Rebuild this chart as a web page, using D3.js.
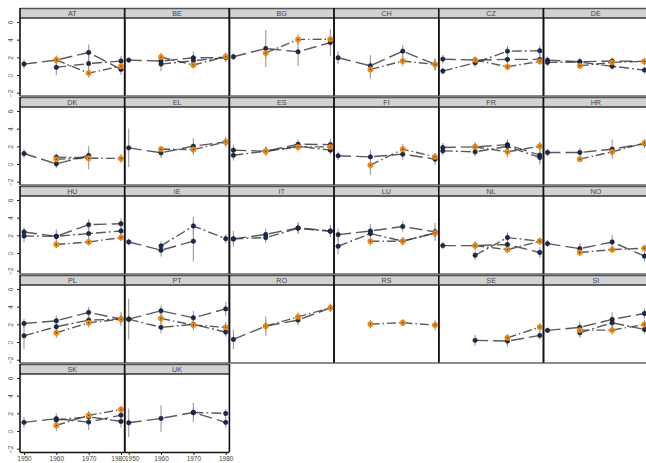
<!DOCTYPE html>
<html>
<head>
<meta charset="utf-8">
<script src="https://cdn.jsdelivr.net/npm/d3@7"></script>
<style>
  html, body { margin: 0; padding: 0; background: #fff; }
  svg { display: block; font-family: "Liberation Sans", Arial, sans-serif; }
</style>
</head>
<body>
<svg id="chart" width="646" height="463"></svg>
<script>
// Survey years on the x axis
const years = [1950, 1960, 1970, 1980];
const xTicks = [1950, 1960, 1970, 1980];
const yTicks = [-2, 0, 2, 4, 6];

// Country panels, in facet order
const countries = ["AT","BE","BG","CH","CZ","DE","DK","EL","ES","FI","FR","HR",
                   "HU","IE","IT","LU","NL","NO","PL","PT","RO","RS","SE","SI",
                   "SK","UK"];

// First navy series (long dash)
const navyA = [
  [1.24,1.70,2.55,0.64],[1.69,1.58,1.95,1.99],[2.07,3.00,2.63,3.68],[1.95,1.05,2.70,1.20],
  [1.80,1.69,1.77,1.77],[1.69,1.50,1.58,1.54],[1.19,0.02,0.97,null],[1.83,1.27,2.02,2.50],
  [1.57,1.45,2.24,2.20],[0.93,0.81,1.12,0.55],[1.87,1.94,2.20,1.00],[1.31,1.31,1.68,2.30],
  [2.38,1.89,3.21,3.32],[1.25,0.32,1.34,null],[1.60,2.10,2.85,2.50],[2.08,2.49,3.00,2.40],
  [0.84,0.84,0.96,0.06],[1.07,0.50,1.25,-0.35],[2.10,2.40,3.35,2.60],[2.59,3.53,2.74,3.75],
  [0.30,1.80,2.48,3.87],[null,null,null,null],[null,0.19,0.11,0.75],[1.32,1.66,2.56,3.23],
  [0.98,1.39,1.01,1.80],[0.94,1.43,2.10,0.98]
];
const errA = [
  [0.5,0.5,0.9,0.6],[0.3,0.6,0.7,0.5],[0.4,2.1,1.6,1.5],[0.7,1.2,0.7,0.7],
  [0.5,0.4,0.6,0.6],[0.4,0.4,0.4,0.4],[0.5,0.5,0.6,null],[2.2,0.6,0.9,0.6],
  [0.6,0.5,0.5,0.7],[0.5,0.8,0.7,0.7],[0.5,0.5,0.6,0.8],[0.4,0.5,1.1,0.5],
  [0.5,0.8,0.6,0.6],[0.4,0.7,2.3,null],[0.6,0.7,0.7,0.7],[0.7,0.8,0.6,1.0],
  [0.4,0.5,0.6,0.6],[0.4,0.6,0.8,0.6],[0.5,0.6,0.6,0.8],[2.3,0.6,0.8,0.8],
  [1.1,0.6,0.6,0.5],[null,null,null,null],[null,0.6,0.6,0.5],[0.3,0.6,0.8,0.6],
  [0.6,0.6,0.9,0.5],[1.6,1.5,1.1,0.6]
];

// Second navy series (dash-dot)
const navyB = [
  [null,0.87,1.30,1.58],[null,1.24,1.61,1.99],[null,null,null,null],[null,null,null,null],
  [0.45,1.39,2.70,2.74],[1.43,1.46,1.00,0.56],[null,0.78,0.70,null],[null,null,null,null],
  [1.00,1.45,2.00,1.57],[null,null,null,null],[1.49,1.38,2.00,0.74],[null,null,null,null],
  [1.93,1.89,2.20,2.49],[null,0.80,3.06,1.63],[1.60,1.75,2.80,2.45],[0.77,2.20,1.34,2.27],
  [null,-0.25,1.75,1.34],[null,null,null,null],[0.71,1.73,2.48,2.60],[2.59,1.66,2.00,1.13],
  [null,null,null,null],[null,null,null,null],[null,null,null,null],[null,1.05,2.18,1.43],
  [null,1.25,1.60,1.09],[null,null,2.10,1.99]
];
const errB = [
  [null,0.9,0.9,0.6],[null,0.8,0.6,0.4],[null,null,null,null],[null,null,null,null],
  [0.4,0.5,0.6,0.6],[0.4,0.4,0.4,0.4],[null,0.4,1.3,null],[null,null,null,null],
  [0.6,0.5,0.4,0.5],[null,null,null,null],[0.5,0.5,0.5,0.8],[null,null,null,null],
  [0.7,0.6,1.2,0.5],[null,0.5,1.0,0.5],[0.9,0.6,0.5,0.5],[0.9,0.7,0.5,0.5],
  [null,0.5,0.6,0.4],[null,null,null,null],[1.5,0.6,0.5,0.5],[0.5,0.7,0.5,0.5],
  [null,null,null,null],[null,null,null,null],[null,null,null,null],[null,0.6,0.7,0.5],
  [null,0.5,0.6,0.7],[null,null,0.5,0.5]
];

// Orange series (dash-dot, points in orange)
const orangeS = [
  [null,1.70,0.22,1.00],[null,2.03,1.13,2.07],[null,2.50,4.02,4.06],[null,0.64,1.58,1.20],
  [null,1.69,0.94,1.54],[null,1.05,1.43,1.54],[null,0.55,0.66,0.63],[null,1.68,1.64,2.50],
  [null,1.45,1.94,1.94],[null,-0.12,1.68,0.81],[null,1.94,1.38,2.02],[null,0.55,1.38,2.39],
  [null,0.96,1.26,1.75],[null,null,null,null],[null,null,null,null],[null,1.34,1.34,2.27],
  [null,0.84,0.39,1.34],[null,0.06,0.39,0.54],[null,1.05,2.18,2.59],[null,2.67,1.92,1.66],
  [null,1.80,2.85,3.87],[null,2.03,2.18,1.92],[null,null,0.48,1.69],[null,1.35,1.35,1.99],
  [null,0.64,1.77,2.44],[null,null,null,null]
];
const errO = [
  [null,0.4,0.5,0.4],[null,0.5,0.4,0.5],[null,0.6,0.6,0.5],[null,1.0,0.6,0.6],
  [null,0.3,0.3,0.3],[null,0.3,0.3,0.3],[null,0.4,0.4,0.5],[null,0.4,0.6,0.4],
  [null,0.4,0.4,0.4],[null,1.1,0.6,0.4],[null,0.5,0.6,0.5],[null,0.3,0.4,0.4],
  [null,0.4,0.4,0.4],[null,null,null,null],[null,null,null,null],[null,0.5,0.4,0.5],
  [null,0.4,0.4,0.4],[null,0.4,0.4,0.4],[null,0.6,0.5,0.4],[null,0.6,0.6,0.6],
  [null,1.1,0.5,0.4],[null,0.5,0.4,0.6],[null,null,0.4,0.5],[null,0.4,0.5,0.5],
  [null,0.6,0.5,0.4],[null,null,null,null]
];

// ---- layout ----
const svg = d3.select("#chart");
const nCols = 6;
const colW = 104.7, left0 = 20;
const rowH = 89, top0 = 8;
const stripH = 10, plotBottom = 88;

const seriesDefs = [
  {vals: navyA,   errs: errA, dash: "13,5",          pt: "navy"},
  {vals: navyB,   errs: errB, dash: "10,3,2,3",      pt: "navy"},
  {vals: orangeS, errs: errO, dash: "9,3,1.5,3",     pt: "orange"}
];

const nRows = Math.ceil(countries.length / nCols);
const bottomRowCount = countries.length - (nRows - 1) * nCols;

countries.forEach((c, i) => {
  const col = i % nCols, row = Math.floor(i / nCols);
  const x0 = left0 + col * colW, y0 = top0 + row * rowH;
  const x = d3.scaleLinear().domain([1950, 1980]).range([x0 + 4, x0 + colW - 3.7]);
  const y = d3.scaleLinear().domain([-2.37, 6.45]).range([y0 + plotBottom, y0 + stripH]);
  const g = svg.append("g");

  // strip
  g.append("rect").attr("x", x0).attr("y", y0).attr("width", colW).attr("height", stripH)
    .attr("fill", "#d2d2d2");
  g.append("line").attr("x1", x0).attr("x2", x0 + colW).attr("y1", y0 + 0.5).attr("y2", y0 + 0.5)
    .attr("stroke", "#555").attr("stroke-width", 1.3);
  g.append("line").attr("x1", x0).attr("x2", x0 + colW).attr("y1", y0 + stripH).attr("y2", y0 + stripH)
    .attr("stroke", "#333").attr("stroke-width", 1.5);
  g.append("text").attr("x", x0 + colW / 2).attr("y", y0 + 7.6)
    .attr("text-anchor", "middle").attr("font-size", 7.2).attr("fill", "#444").text(c);

  // panel frame: left and right rules, bottom rule
  const isBottomRow = row === nRows - 1;
  g.append("line").attr("x1", x0).attr("x2", x0).attr("y1", y0).attr("y2", y0 + plotBottom)
    .attr("stroke", "#111").attr("stroke-width", 1.6);
  g.append("line").attr("x1", x0 + colW).attr("x2", x0 + colW).attr("y1", y0).attr("y2", y0 + plotBottom)
    .attr("stroke", "#111").attr("stroke-width", 1.6);
  if (!isBottomRow) {
    g.append("line").attr("x1", x0).attr("x2", x0 + colW).attr("y1", y0 + plotBottom).attr("y2", y0 + plotBottom)
      .attr("stroke", "#666").attr("stroke-width", 1.3);
  }

  // y axis on the first column
  if (col === 0) {
    const ya = g.append("g").attr("transform", `translate(${x0},0)`)
      .call(d3.axisLeft(y).tickValues(yTicks).tickSize(3).tickFormat(d3.format("d")));
    ya.select(".domain").remove();
    ya.selectAll(".tick line").attr("stroke", "#222");
    ya.selectAll(".tick text")
      .attr("font-size", 6.8).attr("fill", "#555").attr("font-family", "Liberation Sans, Arial, sans-serif")
      .attr("text-anchor", "middle")
      .attr("x", 0)
      .attr("transform", "translate(-9,0) rotate(-90)")
      .attr("dy", "0.35em");
  }

  // x axis on the bottom row; labels at shared panel edges are nudged inward
  if (isBottomRow) {
    const xa = g.append("g").attr("transform", `translate(0,${y0 + plotBottom})`)
      .call(d3.axisBottom(x).tickValues(xTicks).tickSize(3).tickFormat(d3.format("d")));
    xa.select(".domain").attr("stroke", "#111").attr("stroke-width", 1.3)
      .attr("d", `M${x0},0.5H${x0 + colW}`);
    xa.selectAll(".tick line").attr("stroke", "#222");
    xa.selectAll(".tick text").attr("font-size", 6.5).attr("fill", "#444")
      .attr("font-family", "Liberation Sans, Arial, sans-serif").attr("y", 4.5)
      .attr("x", d => {
        if (d === 1980 && col < bottomRowCount - 1) return -3;
        if (d === 1950 && col > 0) return 3;
        return 0;
      });
  }

  const line = d3.line().defined(d => d.v != null).x(d => x(d.yr)).y(d => y(d.v));

  // error bars
  seriesDefs.forEach(s => {
    const pts = years.map((yr, k) => ({yr, v: s.vals[i][k], e: s.errs[i][k]})).filter(d => d.v != null);
    g.selectAll(null).data(pts).enter().append("line")
      .attr("x1", d => x(d.yr)).attr("x2", d => x(d.yr))
      .attr("y1", d => y(d.v - d.e)).attr("y2", d => y(d.v + d.e))
      .attr("stroke", "#9a9a9a").attr("stroke-width", 1.1);
  });

  // connecting lines
  seriesDefs.forEach(s => {
    const pts = years.map((yr, k) => ({yr, v: s.vals[i][k]}));
    if (pts.filter(d => d.v != null).length < 2) return;
    g.append("path").attr("d", line(pts)).attr("fill", "none")
      .attr("stroke", "#3c3c3c").attr("stroke-width", 1.4).attr("stroke-opacity", 0.85)
      .attr("stroke-dasharray", s.dash);
  });

  // points: navy first, orange on top
  seriesDefs.forEach(s => {
    const pts = years.map((yr, k) => ({yr, v: s.vals[i][k]})).filter(d => d.v != null);
    if (s.pt === "navy") {
      g.selectAll(null).data(pts).enter().append("circle")
        .attr("cx", d => x(d.yr)).attr("cy", d => y(d.v)).attr("r", 2.2)
        .attr("fill", "#1b2a4e").attr("stroke", "#0e1830").attr("stroke-width", 0.6);
    } else {
      g.selectAll(null).data(pts).enter().append("circle")
        .attr("cx", d => x(d.yr)).attr("cy", d => y(d.v)).attr("r", 2.7)
        .attr("fill", "#f28a0a").attr("stroke", "#e07800").attr("stroke-width", 0.5);
      g.selectAll(null).data(pts).enter().append("circle")
        .attr("cx", d => x(d.yr)).attr("cy", d => y(d.v)).attr("r", 0.7)
        .attr("fill", "#333");
    }
  });
});
</script>
</body>
</html>
